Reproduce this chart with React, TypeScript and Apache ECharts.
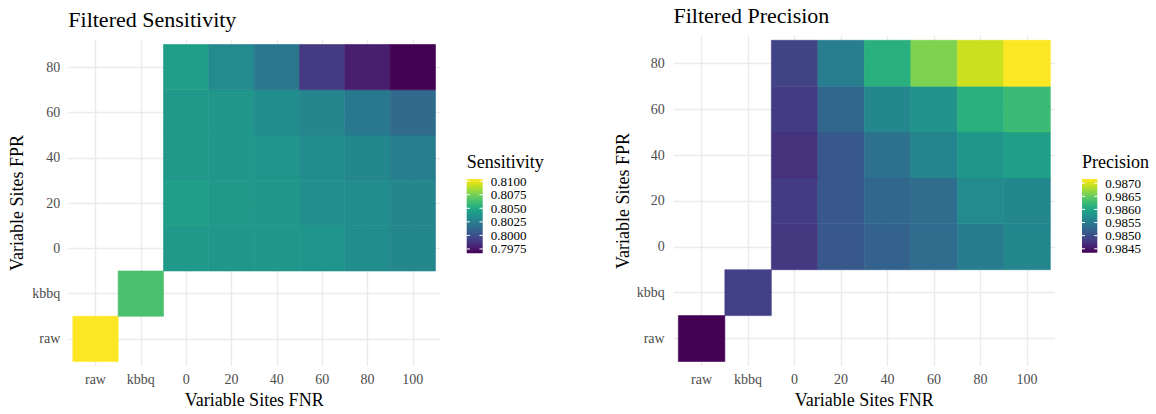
import React, { useEffect, useRef } from "react";
import * as echarts from "echarts";

// ---------- data ----------
const fnrCategories = ["raw", "kbbq", "0", "20", "40", "60", "80", "100"];
const fprCategories = ["raw", "kbbq", "0", "20", "40", "60", "80"];
const gridFnr = ["0", "20", "40", "60", "80", "100"];
const gridFpr = ["0", "20", "40", "60", "80"];

const sensitivityRaw = 0.8104;
const sensitivityKbbq = 0.8064;
const sensitivityFpr0 = [0.804, 0.8039, 0.8039, 0.8038, 0.8033, 0.803];
const sensitivityFpr20 = [0.8043, 0.804, 0.8039, 0.8035, 0.8033, 0.8029];
const sensitivityFpr40 = [0.804, 0.8039, 0.8037, 0.8033, 0.803, 0.8025];
const sensitivityFpr60 = [0.804, 0.8039, 0.8033, 0.8029, 0.8022, 0.8014];
const sensitivityFpr80 = [0.8043, 0.8032, 0.8021, 0.799, 0.7978, 0.7967];
const sensitivityBreaks = [0.7975, 0.8, 0.8025, 0.805, 0.8075, 0.81];

const precisionRaw = 0.98435;
const precisionKbbq = 0.98488;
const precisionFpr0 = [0.9848, 0.98511, 0.98522, 0.98533, 0.9855, 0.98564];
const precisionFpr20 = [0.98483, 0.98511, 0.98528, 0.98533, 0.98567, 0.98564];
const precisionFpr40 = [0.98474, 0.98511, 0.98539, 0.98561, 0.98581, 0.98592];
const precisionFpr60 = [0.98483, 0.98528, 0.98564, 0.98578, 0.98612, 0.98626];
const precisionFpr80 = [0.98491, 0.98553, 0.98612, 0.9866, 0.98694, 0.98716];
const precisionBreaks = [0.9845, 0.985, 0.9855, 0.986, 0.9865, 0.987];

const viridis = [
  "#440154", "#48186a", "#472d7b", "#424086", "#3b528b", "#33638d",
  "#2c728e", "#26828e", "#21918c", "#1fa088", "#28ae80", "#3fbc73",
  "#5ec962", "#84d44b", "#addc30", "#d8e219", "#fde725",
];

// ---------- helpers ----------
const FONT = "Liberation Serif";

function buildCells(raw: number, kbbq: number, rows: number[][]) {
  const cells: number[][] = [
    [fnrCategories.indexOf("raw"), fprCategories.indexOf("raw"), raw],
    [fnrCategories.indexOf("kbbq"), fprCategories.indexOf("kbbq"), kbbq],
  ];
  rows.forEach((row, i) =>
    row.forEach((v, j) =>
      cells.push([fnrCategories.indexOf(gridFnr[j]), fprCategories.indexOf(gridFpr[i]), v])
    )
  );
  return cells;
}

const sensitivityCells = buildCells(sensitivityRaw, sensitivityKbbq, [
  sensitivityFpr0, sensitivityFpr20, sensitivityFpr40, sensitivityFpr60, sensitivityFpr80,
]);
const precisionCells = buildCells(precisionRaw, precisionKbbq, [
  precisionFpr0, precisionFpr20, precisionFpr40, precisionFpr60, precisionFpr80,
]);

function range(cells: number[][]) {
  const vals = cells.map((c) => c[2]);
  return [Math.min(...vals), Math.max(...vals)];
}

const xTickValues = fnrCategories.map((_, i) => i);
const yTickValues = fprCategories.map((_, i) => i);

function makeXAxis(gridIndex: number) {
  return {
    type: "value",
    gridIndex,
    min: -0.6,
    max: fnrCategories.length - 1 + 0.6,
    name: "Variable Sites FNR",
    nameLocation: "middle",
    nameGap: 22,
    nameTextStyle: { fontFamily: FONT, fontSize: 18, color: "#000" },
    axisLine: { show: false },
    axisTick: { show: false, customValues: xTickValues },
    axisLabel: {
      customValues: xTickValues,
      formatter: (v: number) => fnrCategories[Math.round(v)],
      fontFamily: FONT,
      fontSize: 14,
      color: "#4d4d4d",
      margin: 6,
    },
    splitLine: { show: true, lineStyle: { color: "#ebebeb", width: 1.4 } },
  };
}

function makeYAxis(gridIndex: number, labelMargin: number) {
  return {
    type: "value",
    gridIndex,
    min: -0.6,
    max: fprCategories.length - 1 + 0.6,
    name: "Variable Sites FPR",
    nameLocation: "middle",
    nameGap: 42,
    nameTextStyle: { fontFamily: FONT, fontSize: 18, color: "#000" },
    axisLine: { show: false },
    axisTick: { show: false, customValues: yTickValues },
    axisLabel: {
      customValues: yTickValues,
      formatter: (v: number) => fprCategories[Math.round(v)],
      fontFamily: FONT,
      fontSize: 14,
      color: "#4d4d4d",
      margin: labelMargin,
    },
    splitLine: { show: true, lineStyle: { color: "#ebebeb", width: 1.4 } },
  };
}

function renderTile(params: any, api: any) {
  const x = api.value(0);
  const y = api.value(1);
  const p0 = api.coord([x - 0.5, y + 0.5]);
  const p1 = api.coord([x + 0.5, y - 0.5]);
  const color = api.visual("color");
  return {
    type: "rect",
    shape: { x: p0[0], y: p0[1], width: p1[0] - p0[0], height: p1[1] - p0[1] },
    style: { fill: color, stroke: color, lineWidth: 0.6 },
  };
}

function legendGraphics(
  title: string,
  x: number,
  barTop: number,
  barW: number,
  barH: number,
  breaks: number[],
  min: number,
  max: number
) {
  const els: any[] = [];
  els.push({
    type: "text",
    x,
    y: 162.3,
    style: {
      text: title,
      fontFamily: FONT,
      fontSize: 18,
      fill: "#000",
      align: "left",
      verticalAlign: "middle",
    },
  });
  els.push({
    type: "rect",
    shape: { x, y: barTop, width: barW, height: barH },
    style: {
      fill: new echarts.graphic.LinearGradient(
        0, 0, 0, 1,
        viridis
          .slice()
          .reverse()
          .map((c, i) => ({ offset: i / (viridis.length - 1), color: c }))
      ),
    },
  });
  breaks.forEach((b) => {
    const yy = barTop + barH - ((b - min) / (max - min)) * barH;
    const tick = barW / 5;
    els.push({
      type: "line",
      shape: { x1: x, y1: yy, x2: x + tick, y2: yy },
      style: { stroke: "#fff", lineWidth: 1 },
    });
    els.push({
      type: "line",
      shape: { x1: x + barW - tick, y1: yy, x2: x + barW, y2: yy },
      style: { stroke: "#fff", lineWidth: 1 },
    });
    els.push({
      type: "text",
      x: x + barW + 8,
      y: yy,
      style: {
        text: b.toFixed(4),
        fontFamily: FONT,
        fontSize: 13,
        fill: "#000",
        align: "left",
        verticalAlign: "middle",
      },
    });
  });
  return els;
}

export default function App() {
  const ref = useRef<HTMLDivElement>(null);

  useEffect(() => {
    if (!ref.current) return;
    const chart = echarts.init(ref.current, null, { renderer: "svg" });
    const [sMin, sMax] = range(sensitivityCells);
    const [pMin, pMax] = range(precisionCells);

    const option: any = {
      animation: false,
      backgroundColor: "#ffffff",
      textStyle: { fontFamily: FONT },
      title: [
        {
          text: "Filtered Sensitivity",
          left: 68.3,
          top: 8.6,
          padding: 0,
          textStyle: { fontFamily: FONT, fontSize: 22, fontWeight: "normal", color: "#000" },
        },
        {
          text: "Filtered Precision",
          left: 673.5,
          top: 4.2,
          padding: 0,
          textStyle: { fontFamily: FONT, fontSize: 22, fontWeight: "normal", color: "#000" },
        },
      ],
      grid: [
        { left: 68.3, top: 40, width: 371.7, height: 326.7 },
        { left: 673.7, top: 35.7, width: 381.3, height: 335 },
      ],
      xAxis: [makeXAxis(0), makeXAxis(1)],
      yAxis: [makeYAxis(0, 8), makeYAxis(1, 9)],
      visualMap: [
        {
          type: "continuous",
          show: false,
          seriesIndex: 0,
          dimension: 2,
          min: sMin,
          max: sMax,
          inRange: { color: viridis },
        },
        {
          type: "continuous",
          show: false,
          seriesIndex: 1,
          dimension: 2,
          min: pMin,
          max: pMax,
          inRange: { color: viridis },
        },
      ],
      series: [
        {
          type: "custom",
          xAxisIndex: 0,
          yAxisIndex: 0,
          encode: { x: 0, y: 1 },
          renderItem: renderTile,
          data: sensitivityCells,
        },
        {
          type: "custom",
          xAxisIndex: 1,
          yAxisIndex: 1,
          encode: { x: 0, y: 1 },
          renderItem: renderTile,
          data: precisionCells,
        },
      ],
      graphic: [
        ...legendGraphics("Sensitivity", 466.7, 179, 16, 74.3, sensitivityBreaks, sMin, sMax),
        ...legendGraphics("Precision", 1082, 179, 15.3, 73.7, precisionBreaks, pMin, pMax),
      ],
    };
    chart.setOption(option);
    return () => chart.dispose();
  }, []);

  return (
    <div
      ref={ref}
      style={{ position: "absolute", left: 0, top: 0, width: 1156, height: 414 }}
    />
  );
}
